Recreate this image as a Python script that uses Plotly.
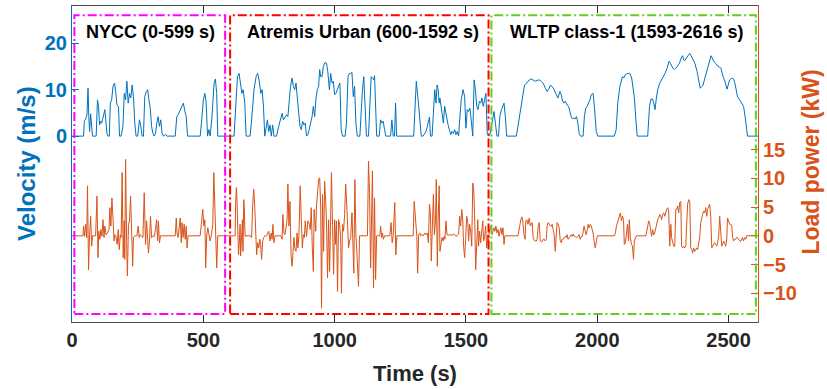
import plotly.graph_objects as go

# Drive-cycle speed trace (s, m/s)
velocity_time = [
    0, 44, 47, 52, 57, 61, 64, 67, 71, 75, 78, 92, 97, 101, 105, 109, 113, 116, 120, 125, 129, 133, 137,
    142, 146, 151, 156, 162, 167, 171, 177, 181, 187, 194, 199, 204, 209, 214, 219, 224, 229, 234, 239,
    244, 250, 257, 262, 267, 272, 277, 283, 288, 293, 298, 303, 308, 313, 318, 323, 328, 333, 338, 343,
    348, 356, 361, 393, 399, 404, 409, 414, 419, 424, 430, 435, 440, 488, 494, 500, 506, 511, 516, 521,
    526, 533, 541, 546, 551, 555, 617, 623, 630, 636, 642, 647, 652, 658, 663, 678, 684, 693, 701, 707,
    713, 719, 724, 729, 734, 739, 744, 749, 754, 759, 764, 769, 779, 787, 795, 800, 805, 811, 817, 822,
    827, 832, 838, 843, 848, 853, 858, 863, 868, 873, 878, 883, 888, 893, 898, 903, 909, 914, 919, 924,
    929, 934, 939, 943, 947, 952, 957, 963, 969, 974, 980, 985, 990, 995, 1000, 1005, 1010, 1015, 1020,
    1025, 1030, 1040, 1045, 1051, 1056, 1061, 1066, 1071, 1076, 1081, 1086, 1096, 1101, 1106, 1111, 1116,
    1121, 1129, 1134, 1139, 1144, 1149, 1152, 1154, 1160, 1170, 1175, 1180, 1185, 1190, 1195, 1213, 1218,
    1223, 1228, 1232, 1236, 1301, 1311, 1318, 1323, 1327, 1330, 1337, 1343, 1348, 1353, 1357, 1361, 1365,
    1371, 1376, 1381, 1386, 1390, 1394, 1398, 1401, 1406, 1410, 1414, 1419, 1425, 1432, 1437, 1442, 1447,
    1452, 1457, 1462, 1467, 1472, 1477, 1482, 1489, 1495, 1500, 1505, 1510, 1515, 1520, 1526, 1531, 1536,
    1541, 1546, 1551, 1556, 1561, 1566, 1571, 1576, 1581, 1586, 1591, 1597, 1603, 1607, 1612, 1618, 1624,
    1629, 1635, 1641, 1645, 1650, 1655, 1692, 1698, 1708, 1716, 1723, 1733, 1741, 1749, 1756, 1764, 1771,
    1779, 1787, 1794, 1802, 1809, 1817, 1822, 1827, 1835, 1842, 1850, 1858, 1863, 1868, 1873, 1878, 1885,
    1891, 1896, 1901, 1906, 1911, 1916, 1921, 1926, 1931, 1936, 1946, 1951, 1956, 1961, 1967, 1972, 1977,
    1984, 1989, 1996, 2002, 2065, 2072, 2078, 2086, 2091, 2096, 2101, 2106, 2116, 2124, 2131, 2136, 2141,
    2147, 2152, 2192, 2199, 2205, 2210, 2215, 2220, 2225, 2230, 2238, 2245, 2253, 2258, 2266, 2273, 2278,
    2283, 2288, 2294, 2299, 2306, 2313, 2319, 2325, 2329, 2334, 2339, 2344, 2352, 2357, 2365, 2372, 2380,
    2387, 2392, 2398, 2403, 2408, 2413, 2420, 2428, 2433, 2438, 2443, 2451, 2458, 2466, 2471, 2479, 2486,
    2494, 2499, 2504, 2512, 2519, 2524, 2529, 2534, 2542, 2550, 2557, 2562, 2567, 2572, 2616,
]
velocity_ms = [
    0, 0, 3.2, 3.7, 4.6, 10.3, 4.2, 1.0, 4.8, 2.1, 0, 0, 7.8, 6.4, 2.4, 3.2, 2.8, 3.5, 4.6, 5.7, 3.2, 0.6, 0,
    0, 7.1, 7.8, 10.7, 11.4, 9.2, 6.7, 6.4, 0, 0, 2.1, 9.2, 7.8, 11.8, 7.1, 9.2, 8.2, 11.0, 8.5, 2.8,
    0, 0, 3.5, 2.1, 0, 0, 8.5, 9.6, 10.0, 7.8, 6.0, 2.1, 0.6, 0, 0.6, 2.8, 4.2, 2.1, 3.5, 0.6,
    0, 0.4, 0, 0, 4.2, 4.6, 5.3, 5.7, 6.4, 7.1, 5.3, 4.2, 0, 0, 3.5, 7.8, 9.2, 7.1, 0, 1.4,
    0, 4.2, 11.4, 12.3, 9.2, 0, 0, 6.4, 12.8, 13.5, 10.7, 9.2, 10.0, 7.1, 0, 0, 3.5, 10.0, 12.8, 13.5,
    11.8, 9.2, 10.0, 6.4, 0, 1.7, 3.5, 1.0, 2.4, 0, 2.4, 0, 0, 2.1, 3.5, 4.9, 3.5, 4.2, 4.6, 4.2,
    8.5, 10.7, 12.5, 10.7, 10.0, 11.4, 8.2, 5.7, 2.1, 1.4, 3.2, 2.4, 2.8, 0, 0.3, 1.4, 2.8, 4.2, 6.4, 4.2,
    8.2, 10.0, 10.7, 14.3, 12.8, 12.8, 15.0, 15.8, 15.7, 13.9, 10.0, 13.5, 11.4, 11.8, 8.9, 9.2, 10.0, 10.7, 11.4,
    1.4, 0, 0, 2.8, 12.8, 13.5, 13.5, 13.7, 8.5, 10.7, 2.8, 0, 0, 6.4, 10.0, 12.8, 6.4,
    0, 0, 6.4, 12.8, 12.5, 12.1, 13.0, 10.0, 0, 0, 3.5, 2.8, 3.2, 1.4, 0, 0, 3.5,
    0, 0, 7.1, 0, 0, 11.8, 7.8, 4.2, 2.8, 0, 0, 0.6, 1.0, 2.1, 3.5, 4.1, 0,
    0, 4.9, 10.0, 7.1, 11.0, 10.0, 7.1, 8.2, 6.0, 3.9, 2.8, 6.4, 4.2, 2.4, 1.4, 0.3, 1.0,
    0.6, 1.4, 0.3, 1.0, 0, 4.2, 7.8, 10.0, 8.5, 1.7, 5.7, 5.3, 6.0, 3.5, 0, 12.1, 10.0,
    6.4, 5.7, 7.5, 7.1, 8.2, 6.4, 7.8, 9.2, 0.6, 0, 0.3, 2.1, 3.5, 5.3, 2.8, 0, 0,
    4.2, 5.7, 6.7, 7.1, 4.2, 0, 0, 2.1, 6.4, 9.2, 11.0, 11.5, 12.1, 12.3, 12.1, 11.8, 12.0,
    12.1, 11.8, 11.4, 10.3, 9.6, 10.3, 11.0, 10.7, 10.1, 9.2, 8.2, 9.6, 8.9, 7.5, 7.1, 7.5, 6.7,
    6.4, 5.3, 4.1, 3.7, 3.9, 3.7, 4.2, 2.8, 0.6, 0, 0, 4.2, 6.0, 6.4, 7.1, 7.8, 8.9,
    9.2, 6.4, 1.0, 0, 0, 1.4, 7.1, 10.7, 12.1, 12.8, 12.5, 13.2, 13.5, 13.5, 12.5, 10.7, 8.5,
    3.5, 0, 0, 6.4, 8.0, 8.0, 7.1, 5.7, 8.2, 10.0, 11.4, 12.1, 12.8, 13.5, 14.6, 16.1, 15.7,
    15.1, 14.6, 14.4, 14.6, 15.1, 15.7, 16.8, 17.3, 16.4, 16.3, 16.8, 17.3, 17.8, 17.3, 16.4, 15.6, 13.9,
    11.8, 10.3, 10.7, 11.0, 12.1, 13.2, 15.0, 16.4, 17.3, 16.8, 16.1, 15.6, 15.1, 14.8, 14.6, 12.8, 11.8,
    10.1, 11.4, 12.1, 12.5, 12.3, 11.4, 10.0, 8.5, 7.8, 7.1, 6.4, 4.6, 1.4, 0, 0,
]

# Load power demand (s, kW)
power_time = [
    0, 42, 44, 48, 52, 56, 59, 63, 67, 71, 75, 78, 90, 95, 99, 102, 106, 110, 114, 118, 122, 125, 130,
    135, 141, 144, 148, 152, 156, 160, 163, 167, 172, 176, 180, 184, 187, 191, 195, 199, 201, 204, 208,
    211, 215, 219, 223, 227, 231, 234, 239, 247, 252, 256, 260, 265, 270, 275, 280, 284, 288, 291, 295,
    299, 303, 308, 313, 318, 322, 326, 329, 333, 337, 393, 397, 400, 404, 408, 412, 416, 419, 423, 427,
    431, 435, 438, 442, 488, 494, 498, 502, 506, 509, 513, 517, 521, 526, 531, 536, 540, 544, 547, 551,
    555, 621, 623, 626, 628, 631, 634, 637, 640, 642, 646, 649, 651, 654, 656, 659, 663, 680, 684, 688,
    692, 696, 699, 703, 707, 711, 715, 718, 722, 726, 730, 734, 741, 749, 754, 758, 762, 765, 769, 773,
    796, 800, 803, 807, 811, 815, 819, 822, 826, 830, 834, 838, 841, 845, 849, 853, 857, 860, 864, 869,
    873, 877, 881, 885, 888, 893, 898, 904, 907, 911, 915, 919, 922, 928, 931, 935, 939, 943, 947, 950,
    954, 958, 962, 966, 969, 973, 977, 981, 985, 988, 992, 996, 1000, 1004, 1007, 1011, 1015, 1019, 1023,
    1026, 1030, 1034, 1038, 1042, 1046, 1049, 1053, 1057, 1061, 1066, 1070, 1073, 1077, 1081, 1086, 1091,
    1095, 1125, 1129, 1133, 1137, 1141, 1144, 1148, 1152, 1156, 1160, 1172, 1175, 1179, 1182, 1186, 1190,
    1210, 1215, 1219, 1223, 1229, 1233, 1237, 1299, 1303, 1309, 1313, 1316, 1320, 1324, 1328, 1333, 1338,
    1343, 1348, 1353, 1357, 1361, 1365, 1368, 1372, 1376, 1380, 1384, 1387, 1391, 1394, 1398, 1401, 1405,
    1409, 1413, 1417, 1420, 1424, 1428, 1432, 1437, 1442, 1447, 1452, 1457, 1462, 1467, 1472, 1476, 1480,
    1484, 1488, 1491, 1495, 1499, 1503, 1507, 1510, 1514, 1518, 1522, 1526, 1529, 1533, 1537, 1541, 1545,
    1548, 1552, 1556, 1560, 1564, 1567, 1571, 1575, 1579, 1583, 1585, 1589, 1594, 1599, 1603, 1607, 1610,
    1614, 1618, 1622, 1626, 1629, 1633, 1637, 1641, 1645, 1648, 1698, 1702, 1705, 1709, 1713, 1717, 1721,
    1725, 1728, 1732, 1736, 1741, 1745, 1749, 1752, 1756, 1760, 1764, 1768, 1771, 1775, 1779, 1783, 1787,
    1790, 1794, 1798, 1802, 1806, 1809, 1813, 1817, 1821, 1825, 1828, 1832, 1836, 1840, 1844, 1847, 1851,
    1855, 1859, 1863, 1866, 1870, 1874, 1878, 1882, 1885, 1889, 1893, 1897, 1901, 1904, 1908, 1912, 1916,
    1920, 1923, 1927, 1931, 1935, 1939, 1943, 1946, 1950, 1954, 1958, 1962, 1965, 1969, 1973, 1977, 1981,
    1984, 1988, 1992, 1996, 2000, 2065, 2069, 2073, 2077, 2081, 2084, 2088, 2092, 2096, 2100, 2103, 2107,
    2111, 2115, 2119, 2122, 2126, 2130, 2134, 2138, 2141, 2145, 2149, 2185, 2188, 2192, 2196, 2200, 2204,
    2207, 2211, 2215, 2219, 2223, 2226, 2230, 2234, 2238, 2242, 2245, 2249, 2253, 2257, 2261, 2264, 2268,
    2272, 2276, 2280, 2283, 2287, 2291, 2295, 2299, 2302, 2306, 2310, 2314, 2318, 2321, 2325, 2329, 2333,
    2337, 2341, 2344, 2348, 2352, 2356, 2360, 2363, 2367, 2371, 2375, 2379, 2382, 2386, 2390, 2394, 2397,
    2401, 2405, 2409, 2413, 2417, 2420, 2424, 2428, 2432, 2436, 2439, 2443, 2447, 2451, 2455, 2458, 2462,
    2466, 2470, 2474, 2477, 2481, 2485, 2489, 2493, 2496, 2500, 2504, 2508, 2512, 2515, 2519, 2523, 2527,
    2531, 2534, 2538, 2542, 2546, 2550, 2553, 2557, 2561, 2565, 2569, 2616,
]
power_kw = [
    0, 0, 1.7, -0.1, 2.0, -0.3, 8.7, -5.9, 0.2, 3.4, -1.8, 0, 0, 6.9, -3.8, 0.8, -0.6, 1.1, -0.1, 2.8, -0.3, 1.7, 0.2,
    0.5, 1.1, 4.9, 1.7, 6.6, 3.1, -0.9, 0.2, 0, -1.5, 1.1, -2.4, 0.2, -0.3, 11.0, -3.8, 2.6, -4.1, 13.3, -0.9,
    -7.0, 2.0, 2.6, 6.9, 0.8, -5.3, -0.3, 0, 0, 1.7, -0.3, 0.2, -0.1, -0.3, 7.5, -1.5, 2.6, -0.9, -3.0, -0.9,
    3.4, -0.3, 0, -0.1, 1.1, 2.8, -0.9, 2.6, -1.2, 0, 0, 3.1, 0.5, -0.3, 2.0, 3.1, -1.2, 2.3, -0.3, 2.0,
    -0.6, 1.7, -2.1, 0, 0, 3.4, 4.6, 1.7, 2.8, -5.6, 0, 1.4, 0, -0.9, 0.2, 2.0, 11.0, 3.1, -0.3, -5.6,
    0, 0, 5.5, 8.4, 6.6, -0.9, -3.3, -1.2, 2.0, -3.5, 0.2, 2.8, -2.7, 6.3, 4.9, -0.1, 0, 0, -0.3, 5.5,
    8.1, 4.9, 0.8, -3.3, -1.2, -2.1, -0.6, -1.5, -4.1, -0.9, -0.3, 0, 0, 0.8, -0.9, 0.5, -0.6, 2.0, -1.2, 0,
    0, -0.6, 3.7, 0.5, 0.2, 1.7, 2.8, 9.0, 1.7, 6.0, -3.5, -5.3, -2.7, -0.3, -2.4, -2.7, 0.5, -2.1, 0, 8.7,
    2.8, -2.1, 0.2, -0.3, 2.6, -0.1, 2.6, 2.0, 1.1, 4.9, -2.1, -6.2, 4.6, 0.8, 5.2, 8.7, 9.8, 10.1, 5.2, -12.6,
    7.2, -2.7, 9.5, 6.0, 2.6, -7.3, 2.8, -6.2, 2.8, 11.0, 2.0, -6.7, 2.8, -1.5, 2.6, -9.7, 2.8, 2.0, -0.3,
    -10.0, 2.0, 0.8, 3.7, 9.0, 5.5, 2.6, -2.1, -0.9, -0.3, 4.0, -1.5, -6.5, 9.8, 0.2, -4.1, -8.8,
    0, 0, 13.0, 7.5, -5.6, 9.5, 11.3, -9.1, 6.6, -7.6, 0, 0, 1.7, -0.3, 0.5, -0.6, 0,
    0, 2.3, -1.2, 0, 5.8, -3.3, 0, 0, 6.0, 2.0, -0.1, -6.5, 0.2, 0.5, 0, 0.2, 0,
    0.5, 0.2, 0.5, -1.2, 5.5, 3.7, -4.4, 1.7, 7.2, 0.2, 2.6, 9.8, -5.3, 2.6, 8.7, -2.7, -1.2,
    -0.3, -0.9, -0.1, -0.6, 2.6, 0.2, 0.1, 0.2, 0.2, 0.1, 0.3, 0.2, -0.1, 0.1, 0.3, 3.4, 1.7,
    4.6, 2.6, -1.8, -3.8, -0.3, 3.4, 2.3, -0.9, 2.0, 0.8, -1.8, 9.2, 8.4, 3.7, -5.9, -0.3, 2.8,
    -1.8, 0.8, -1.2, 0.2, 2.6, -0.9, -0.3, 1.7, -2.1, 0.2, -1.5, 0.8, 1.7, 0.2, 1.1, 1.4, 0.8,
    1.7, 0.5, 1.1, -0.1, 0.8, 1.4, 0.2, 1.4, -1.5, 0, 0, 1.1, 2.0, 2.8, 3.3, 2.3, 0.2,
    -0.6, 2.6, 2.8, 2.0, 3.1, 1.7, 2.3, 2.3, -0.3, -0.8, -0.9, -0.9, -0.6, 1.7, 2.3, -0.9, -1.0,
    -1.0, -0.6, -0.6, -0.9, -0.6, 1.7, 2.3, 2.0, 1.7, 1.7, 2.0, 1.1, 0.2, -2.7, -0.1, 2.3, 2.0,
    1.4, -0.9, -1.2, -0.6, -0.6, -0.3, -0.1, -0.3, 0.2, -0.6, -0.3, -0.1, 0.2, -0.1, 0.3, -0.1, -0.1,
    -0.3, -0.3, -0.1, 0.2, -0.6, -0.1, -0.1, 1.1, 1.7, 0.8, 0.2, 1.1, 2.0, 1.4, 2.0, 1.7, 1.1,
    0.5, -0.9, -2.1, -1.2, 0, 0, 0.5, 1.7, 2.3, 3.1, 3.7, 4.0, 2.6, 3.4, 2.8, -1.5, -1.2,
    0.2, 2.0, -0.9, 2.8, -0.3, -1.5, -1.8, -4.1, -0.9, -0.3, 0, 0, 0.8, 1.7, 2.6, 2.0, 0.5,
    -0.1, 1.1, 0.2, 0.5, 1.4, 1.7, 2.8, 3.1, 3.7, 3.4, 2.8, 3.7, 4.0, 3.4, 4.3, 4.6, 4.9,
    4.3, -1.8, 2.0, -0.3, -1.2, -1.8, -1.8, 4.6, 4.6, 5.2, 4.0, 5.8, 6.0, -1.8, -2.1, -1.8, -2.1,
    -1.8, 2.6, 5.5, 6.3, 6.0, -2.1, -2.4, -3.0, -2.1, -2.7, -2.4, -2.1, -2.4, -1.5, -0.3, 2.3, 3.1,
    3.7, 4.3, 4.0, 4.9, 3.4, 4.6, 5.2, 5.5, 3.4, -2.1, -1.8, -1.5, -1.2, -1.5, -1.8, -1.2, -0.3,
    3.4, 0.8, -1.8, -1.5, -0.9, -1.2, -1.8, -0.6, 3.1, 2.6, 2.0, 2.0, 1.7, -0.1, -0.9, -0.6, -0.6,
    -0.3, -0.3, -0.6, -0.8, -1.0, -0.6, -0.3, -0.9, -0.3, -0.6, 0, 0,
]

cycle_labels = ["NYCC (0-599 s)", "Atremis Urban (600-1592 s)", "WLTP class-1 (1593-2616 s)"]
time_ticks = [0, 500, 1000, 1500, 2000, 2500]
velocity_ticks = [0, 10, 20]
power_ticks = [-10, -5, 0, 5, 10, 15]

BLUE = "#0072BD"
ORANGE = "#D95319"
INK = "#262626"
FONT = "Liberation Sans, Arial, Helvetica, sans-serif"

fig = go.Figure()
fig.add_trace(go.Scatter(x=velocity_time, y=velocity_ms, mode="lines",
                         line=dict(color=BLUE, width=1), yaxis="y", hoverinfo="skip"))
fig.add_trace(go.Scatter(x=power_time, y=power_kw, mode="lines",
                         line=dict(color=ORANGE, width=1), yaxis="y2", hoverinfo="skip"))

# dash-dot frames around each drive cycle, with a caption on top
frames = [
    (9, 583, "#FF00FF", 298),
    (602, 1586, "#FF0000", 1108),
    (1597, 2604, "#66CC1A", 2111),
]
for (x0, x1, colour, cx), label in zip(frames, cycle_labels):
    fig.add_shape(type="rect", xref="x", yref="y", x0=x0, x1=x1, y0=-38.3, y1=26.0,
                  line=dict(color=colour, width=2, dash="9px,3px,2px,3px"), layer="above")
    fig.add_annotation(x=cx, y=22.4, xref="x", yref="y", text=label, showarrow=False,
                       xanchor="center", yanchor="middle",
                       font=dict(family=FONT, size=18, color="black", weight="bold"))

# axis titles placed explicitly around the plot area
axis_titles = [
    dict(text="Time (s)", x=0.5, y=-0.162, textangle=0, color=INK, size=22),
    dict(text="Velocity (m/s)", x=-0.067, y=0.5, textangle=-90, color=BLUE, size=24),
    dict(text="Load power (kW)", x=1.0775, y=0.505, textangle=-90, color=ORANGE, size=23),
]
for t in axis_titles:
    fig.add_annotation(text=t["text"], x=t["x"], y=t["y"], xref="paper", yref="paper",
                       textangle=t["textangle"], showarrow=False,
                       xanchor="center", yanchor="middle",
                       font=dict(family=FONT, size=t["size"], color=t["color"], weight="bold"))

fig.update_layout(
    width=827, height=389,
    margin=dict(l=72, r=69, t=6, b=67, autoexpand=False),
    paper_bgcolor="white", plot_bgcolor="white",
    showlegend=False,
    xaxis=dict(
        range=[0, 2612], tickvals=time_ticks, ticks="inside", ticklen=7, tickcolor=INK,
        showline=True, linecolor="#4d4d4d", linewidth=1, mirror="ticks",
        showgrid=False, zeroline=False, automargin=False,
        tickfont=dict(family=FONT, size=20, color=INK, weight="bold"),
    ),
    yaxis=dict(
        range=[-40, 28], tickvals=velocity_ticks, ticks="inside", ticklen=7, tickcolor=BLUE,
        showline=True, linecolor=BLUE, linewidth=1,
        showgrid=False, zeroline=False, automargin=False,
        tickfont=dict(family=FONT, size=20, color=BLUE, weight="bold"),
    ),
    yaxis2=dict(
        overlaying="y", side="right", anchor="x",
        range=[-15, 40], tickvals=power_ticks, ticks="inside", ticklen=7, tickcolor=ORANGE,
        showline=True, linecolor=ORANGE, linewidth=1,
        showgrid=False, zeroline=False, automargin=False,
        tickfont=dict(family=FONT, size=20, color=ORANGE, weight="bold"),
    ),
)

fig.write_html("out.html")
